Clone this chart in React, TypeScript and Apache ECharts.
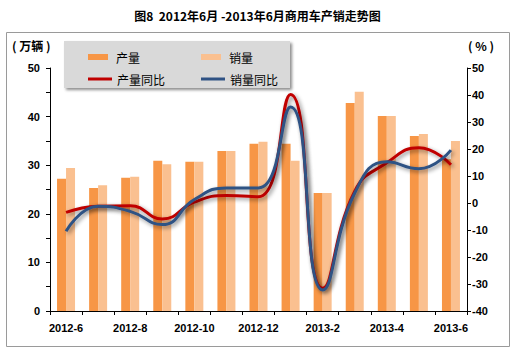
import React, { useEffect, useRef } from "react";
import * as echarts from "echarts";

const categories = ["2012-6", "2012-7", "2012-8", "2012-9", "2012-10", "2012-11", "2012-12", "2013-1", "2013-2", "2013-3", "2013-4", "2013-5", "2013-6"];
const production = [27.2, 25.3, 27.4, 30.9, 30.7, 32.9, 34.4, 34.4, 24.3, 42.8, 40.1, 36.0, 31.2];
const sales = [29.4, 25.9, 27.6, 30.2, 30.7, 32.9, 34.8, 30.9, 24.3, 45.1, 40.1, 36.4, 35.0];
const productionYoY = [-3.5, -1.2, -1.0, -5.9, 0.3, 2.8, 2.3, 40.2, -31.6, 4.4, 14.9, 20.5, 14.2];
const salesYoY = [-10.5, -1.2, -3.1, -8.0, 1.3, 5.6, 5.6, 35.6, -32.2, 3.7, 15.3, 12.7, 19.6];
const seriesNames = ["产量", "销量", "产量同比", "销量同比"];

const titleText = "图8  2012年6月 -2013年6月商用车产销走势图";
const CJK = "'Noto Sans CJK SC', 'Noto Sans', sans-serif";
const LAT = "'Liberation Sans', Arial, sans-serif";

export default function App() {
  const ref = useRef<HTMLDivElement>(null);
  useEffect(() => {
    if (!ref.current) return;
    const chart = echarts.init(ref.current, null, { renderer: "svg" });
    const lineShadow = {
      shadowColor: "rgba(0,0,0,0.45)",
      shadowBlur: 4,
      shadowOffsetX: 2,
      shadowOffsetY: 2,
    };
    const barLegendText = { fontFamily: CJK, fontSize: 12, color: "#000", padding: [0, 0, 0, 3] };
    const lineLegendText = { fontFamily: CJK, fontSize: 12, color: "#000", padding: [0, 0, 0, 0] };
    chart.setOption({
      animation: false,
      backgroundColor: "#fff",
      title: {
        text: titleText,
        left: "center",
        top: 4,
        textStyle: { fontFamily: CJK, fontSize: 12, fontWeight: "bold", color: "#000" },
      },
      grid: { left: 50, right: 48, top: 68, bottom: 43 },
      legend: [
        { data: [seriesNames[0]], left: 83, top: 46, icon: "rect", itemWidth: 20, itemHeight: 6, textStyle: barLegendText, selectedMode: false },
        { data: [seriesNames[1]], left: 196, top: 46, icon: "rect", itemWidth: 20, itemHeight: 6, textStyle: barLegendText, selectedMode: false },
        { data: [seriesNames[2]], left: 83, top: 68, icon: "rect", itemWidth: 24, itemHeight: 3, textStyle: lineLegendText, selectedMode: false },
        { data: [seriesNames[3]], left: 196, top: 68, icon: "rect", itemWidth: 24, itemHeight: 3, textStyle: lineLegendText, selectedMode: false },
      ],
      graphic: [
        {
          type: "rect",
          z: 0,
          silent: true,
          shape: { x: 6.5, y: 32.5, width: 503, height: 314 },
          style: { fill: "none", stroke: "#9a9a9a", lineWidth: 1 },
        },
        {
          type: "rect",
          z: 3,
          silent: true,
          shape: { x: 64, y: 41, width: 226, height: 47 },
          style: {
            fill: "#d9d9d9",
            shadowColor: "rgba(0,0,0,0.45)",
            shadowBlur: 3,
            shadowOffsetX: 2,
            shadowOffsetY: 2,
          },
        },
        {
          type: "text",
          left: 12,
          top: 39,
          style: { text: "( 万辆 )", font: `bold 12px ${CJK}`, fill: "#000" },
        },
        {
          type: "text",
          left: 468,
          top: 39,
          style: { text: "( % )", font: `bold 12px ${CJK}`, fill: "#000" },
        },
      ],
      xAxis: {
        type: "category",
        data: categories,
        boundaryGap: true,
        axisLine: { lineStyle: { color: "#000", width: 1 } },
        axisTick: { show: true, interval: 0, length: 4, lineStyle: { color: "#000" } },
        axisLabel: {
          interval: 1,
          margin: 11,
          fontFamily: LAT,
          fontSize: 11,
          fontWeight: "bold",
          color: "#000",
        },
        splitLine: { show: false },
      },
      yAxis: [
        {
          type: "value",
          min: 0,
          max: 50,
          interval: 10,
          position: "left",
          axisLine: { show: true, lineStyle: { color: "#000" } },
          axisTick: { show: true, length: 4, lineStyle: { color: "#000" } },
          minorTick: { show: true, splitNumber: 2, length: 4, lineStyle: { color: "#000" } },
          axisLabel: { margin: 10, fontFamily: LAT, fontSize: 11, fontWeight: "bold", color: "#000" },
          splitLine: { show: false },
        },
        {
          type: "value",
          min: -40,
          max: 50,
          interval: 10,
          position: "right",
          axisLine: { show: true, lineStyle: { color: "#000" } },
          axisTick: { show: true, length: 4, lineStyle: { color: "#000" } },
          axisLabel: { margin: 5, fontFamily: LAT, fontSize: 11, fontWeight: "bold", color: "#000" },
          splitLine: { show: false },
        },
      ],
      series: [
        {
          name: seriesNames[0],
          type: "bar",
          data: production,
          barWidth: 9,
          barGap: "0%",
          itemStyle: { color: "#f79646" },
          z: 2,
        },
        {
          name: seriesNames[1],
          type: "bar",
          data: sales,
          barWidth: 9,
          barGap: "0%",
          itemStyle: { color: "#fac090" },
          z: 2,
        },
        {
          name: seriesNames[2],
          type: "line",
          yAxisIndex: 1,
          data: productionYoY,
          smooth: 0.5,
          symbol: "none",
          itemStyle: { color: "#c00000" },
          lineStyle: { color: "#c00000", width: 3, ...lineShadow },
          z: 5,
        },
        {
          name: seriesNames[3],
          type: "line",
          yAxisIndex: 1,
          data: salesYoY,
          smooth: 0.5,
          symbol: "none",
          itemStyle: { color: "#2f5284" },
          lineStyle: { color: "#2f5284", width: 3, ...lineShadow },
          z: 6,
        },
      ],
    });
    return () => chart.dispose();
  }, []);
  return <div ref={ref} style={{ position: "fixed", left: 0, top: 0, width: 515, height: 354 }} />;
}
